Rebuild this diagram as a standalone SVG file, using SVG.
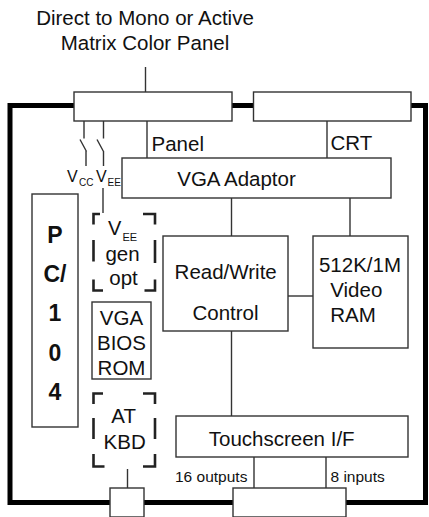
<svg xmlns="http://www.w3.org/2000/svg" width="429" height="517" viewBox="0 0 429 517">
<style>
  .box { fill: #fff; stroke: #333; stroke-width: 1.4; }
  .ln { fill: none; stroke: #333; stroke-width: 1.4; }
  .dash { fill: none; stroke: #222; stroke-width: 2.6; }
  .frame { fill: none; stroke: #000; stroke-width: 5; }
  text { font-family: "Liberation Sans", Arial, sans-serif; fill: #111; }
  .lbl { font-size: 20.5px; text-anchor: middle; }
  .lbls { font-size: 20.5px; }
  .sm { font-size: 15.5px; }
  .pc { font-size: 23px; font-weight: bold; text-anchor: middle; }
</style>
<rect width="429" height="517" fill="#fff"/>

<g id="title">
  <text class="lbl" x="145" y="25">Direct to Mono or Active</text>
  <text class="lbl" x="145" y="49.5">Matrix Color Panel</text>
</g>

<g id="board">
  <rect class="frame" x="10" y="105.5" width="415.5" height="397"/>
</g>

<g id="connectors">
  <line class="ln" x1="145.5" y1="67" x2="145.5" y2="92"/>
  <line class="ln" x1="147" y1="121" x2="147" y2="158"/>
  <line class="ln" x1="327" y1="121" x2="327" y2="158"/>
  <!-- switches -->
  <path class="ln" d="M84,121 V138.5 M80,139.5 L86.5,151.5 M86,151 V166"/>
  <path class="ln" d="M103.5,121 V138.5 M97,139.5 L103.5,151.5 M103.5,151 V166"/>
  <line class="ln" x1="103" y1="188" x2="103" y2="213"/>
  <line class="ln" x1="231.5" y1="198" x2="231.5" y2="236"/>
  <line class="ln" x1="350" y1="198" x2="350" y2="236"/>
  <line class="ln" x1="288" y1="296" x2="313" y2="296"/>
  <line class="ln" x1="231.5" y1="331" x2="231.5" y2="416"/>
  <line class="ln" x1="254" y1="457" x2="254" y2="488"/>
  <line class="ln" x1="326" y1="457" x2="326" y2="488"/>
  <line class="ln" x1="127.5" y1="469" x2="127.5" y2="488"/>
</g>

<g id="panel-connector">
  <rect class="box" x="74" y="92" width="158" height="29"/>
</g>
<g id="crt-connector">
  <rect class="box" x="253.5" y="92" width="157.5" height="29"/>
</g>
<g id="kbd-connector">
  <rect class="box" x="110" y="488" width="34" height="29"/>
</g>
<g id="ts-connector">
  <rect class="box" x="233" y="488" width="113" height="29"/>
</g>

<g id="port-labels">
  <text class="lbls" x="151.5" y="150.5">Panel</text>
  <text class="lbls" x="330.5" y="150">CRT</text>
  <text x="67" y="181.5" font-size="16">V</text>
  <text x="79" y="185.7" font-size="10">CC</text>
  <text x="96" y="181.5" font-size="16">V</text>
  <text x="107.5" y="185.7" font-size="10">EE</text>
  <text class="sm" x="175" y="481.5">16 outputs</text>
  <text class="sm" x="330.5" y="481.5">8 inputs</text>
</g>

<g id="vga-adaptor">
  <rect class="box" x="122" y="158" width="269" height="40"/>
  <text class="lbl" x="236.5" y="185.5">VGA Adaptor</text>
</g>

<g id="pc104">
  <rect class="box" x="32" y="194" width="46" height="233"/>
  <text class="pc" x="55" y="242.5">P</text>
  <text class="pc" x="55" y="281.5">C/</text>
  <text class="pc" x="55" y="321">1</text>
  <text class="pc" x="55" y="360.5">0</text>
  <text class="pc" x="55" y="400">4</text>
</g>

<g id="vee-gen">
  <path class="dash" d="M93.5,224.5 V214 H100 M93.5,240 V261.5 M93.5,279.5 V290.5 H103 M143,214 H155 V224.5 M155,240 V263 M155,279.5 V290.5 H144.5"/>
  <text x="108" y="234.5" font-size="20">V</text>
  <text x="122.5" y="241.3" font-size="11">EE</text>
  <text class="lbl" x="122.5" y="261">gen</text>
  <text class="lbl" x="123.5" y="284.5">opt</text>
</g>

<g id="vga-bios">
  <rect class="box" x="92" y="302" width="59" height="77"/>
  <text class="lbl" x="121.5" y="325">VGA</text>
  <text class="lbl" x="121.5" y="350">BIOS</text>
  <text class="lbl" x="121.5" y="375">ROM</text>
</g>

<g id="at-kbd">
  <path class="dash" d="M93.5,404 V393.5 H103 M93.5,418 V439 M93.5,454 V466.5 H104.5 M143,393.5 H155 V404 M155,418 V439 M155,454 V466.5 H143"/>
  <text class="lbl" x="123.7" y="422.7">AT</text>
  <text class="lbl" x="124.7" y="449.3">KBD</text>
</g>

<g id="read-write">
  <rect class="box" x="163" y="236" width="125" height="95"/>
  <text class="lbl" x="225.7" y="279">Read/Write</text>
  <text class="lbl" x="225.5" y="320">Control</text>
</g>

<g id="video-ram">
  <rect class="box" x="313" y="236" width="95" height="112"/>
  <text class="lbl" x="360" y="271.7">512K/1M</text>
  <text class="lbl" x="356.3" y="296.7">Video</text>
  <text class="lbl" x="353" y="321.7">RAM</text>
</g>

<g id="touchscreen">
  <rect class="box" x="176" y="416" width="232" height="41"/>
  <text class="lbl" x="281.7" y="446">Touchscreen I/F</text>
</g>
</svg>
